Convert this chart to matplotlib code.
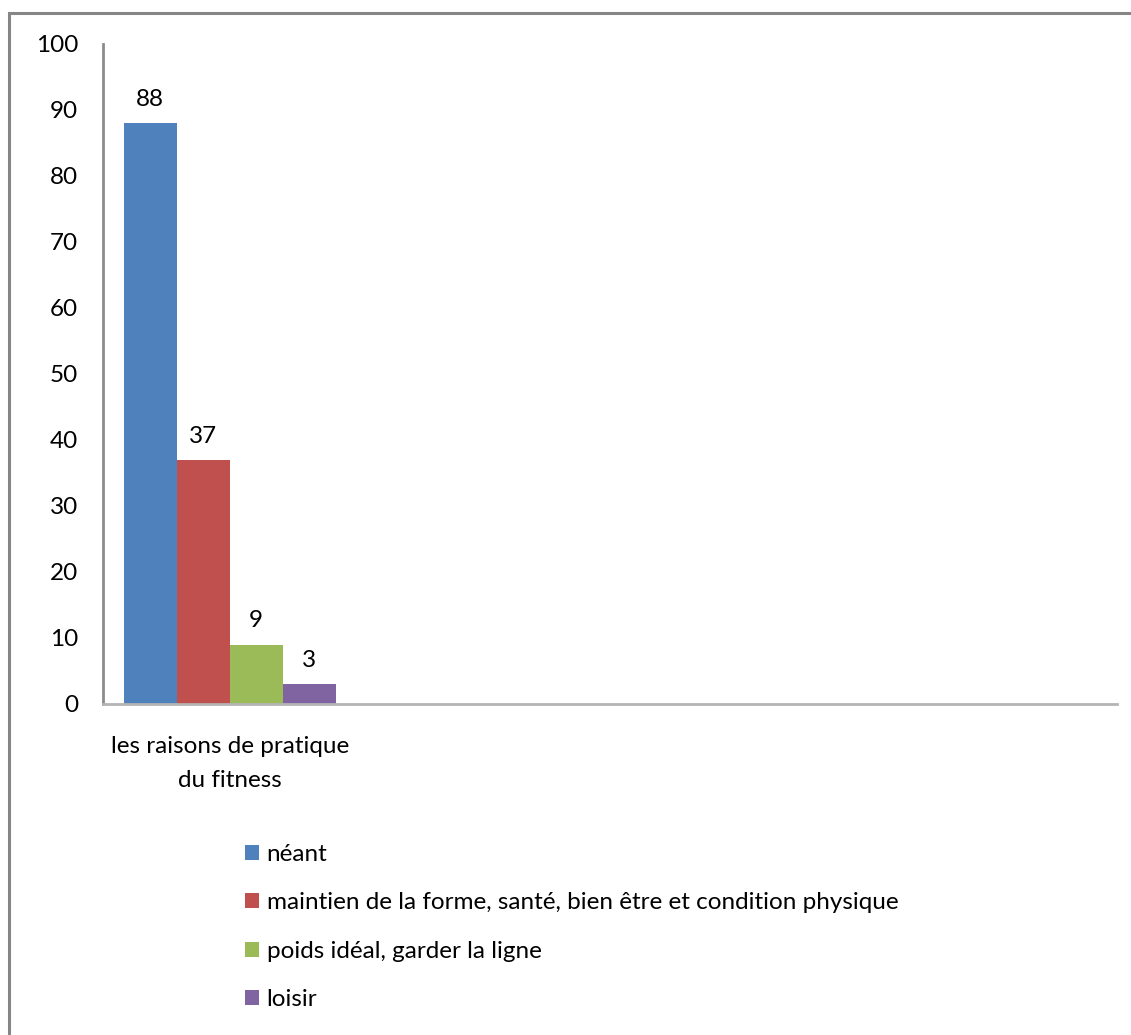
import matplotlib.pyplot as plt
from matplotlib.patches import Rectangle, Patch

categories = ["les raisons de pratique\ndu fitness", "", "", ""]
series = ["néant",
          "maintien de la forme, santé, bien être et condition physique",
          "poids idéal, garder la ligne",
          "loisir"]
values = [88, 37, 9, 3]
colors = ["#4f81bd", "#c0504d", "#9bbb59", "#8064a2"]

plt.rcParams["font.family"] = ["Lato", "DejaVu Sans"]
W, H = 1131, 1035
FS = 17.5
fig = plt.figure(figsize=(W / 100, H / 100), dpi=100)

# outer frame, running off the right and bottom edges
fig.patches.append(Rectangle((9 / W, -0.1), 1.2, 1 - 13 / H + 0.1,
                             transform=fig.transFigure, fill=False,
                             edgecolor="#868686", linewidth=2.2))

ax = fig.add_axes([103 / W, 1 - 704 / H, (1117 - 103) / W, (704 - 44) / H])

bw = 0.209
for i, (name, v, c) in enumerate(zip(series, values, colors)):
    x = (i - 1.5) * bw
    ax.bar(x, v, width=bw, color=c, label=name)
    ax.text(x, v + 2.0, str(v), ha="center", va="bottom", fontsize=FS)

ax.set_xlim(-0.5, 3.5)
ax.set_ylim(0, 100)
ax.set_yticks(range(0, 101, 10))
ax.set_xticks(range(len(categories)))
ax.set_xticklabels(categories, fontsize=FS, linespacing=1.75)
ax.tick_params(axis="both", length=0, labelsize=FS)
ax.tick_params(axis="y", pad=18)
ax.tick_params(axis="x", pad=23)
for s in ["top", "right"]:
    ax.spines[s].set_visible(False)
ax.spines["left"].set_color("#8c8c8c")
ax.spines["bottom"].set_color("#b4b4b4")
ax.spines["left"].set_linewidth(2)
ax.spines["bottom"].set_linewidth(2)

handles = [Patch(facecolor=c, edgecolor="none") for c in colors]
fig.legend(handles, series, loc="upper left",
           bbox_to_anchor=(223 / W, 1 - 822 / H), frameon=False,
           fontsize=FS, handlelength=0.58, handleheight=0.58,
           handletextpad=0.32, labelspacing=1.13)

fig.savefig("out.png", dpi=100)
